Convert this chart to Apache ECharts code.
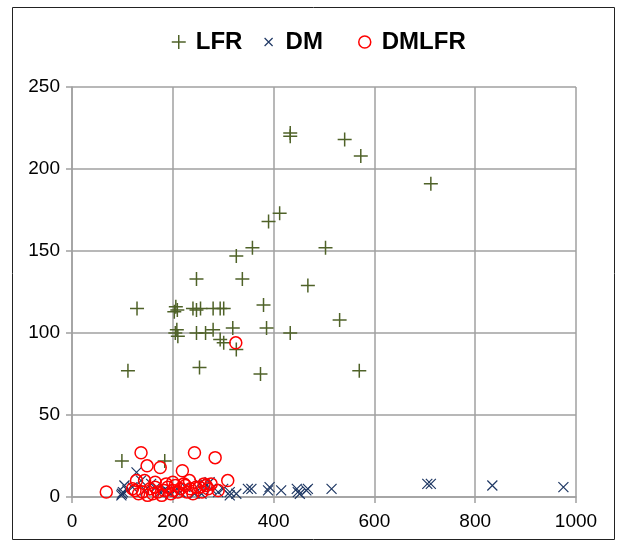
<!DOCTYPE html>
<html>
<head>
<meta charset="utf-8">
<script src="https://cdn.jsdelivr.net/npm/echarts@6/dist/echarts.min.js"></script>
<style>
html,body{margin:0;padding:0;background:#fff;}
#chart{width:621px;height:546px;}
</style>
</head>
<body>
<div id="chart"></div>
<script>
// Series names
var seriesNames = ['LFR', 'DM', 'DMLFR'];

// Axis ticks
var xTicks = [0, 200, 400, 600, 800, 1000];
var yTicks = [0, 50, 100, 150, 200, 250];

// LFR points [x, y]
var lfrData = [
  [99,22],[184,22],[111,77],[129,115],[203,113],[206,116],[209,114],[205,100],
  [208,102],[210,98],[240,115],[247,114],[255,115],[247,133],[247,100],[265,100],
  [280,115],[294,115],[301,115],[280,102],[294,96],[301,94],[319,103],[326,90],
  [253,79],[338,133],[326,147],[358,152],[380,117],[386,103],[374,75],[390,168],
  [412,173],[433,100],[433,222],[433,220],[468,129],[503,152],[531,108],[541,218],
  [570,77],[573,208],[712,191]
];

// DM points [x, y]
var dmData = [
  [98,1],[99,2],[101,3],[104,7],[110,4],[120,6],[128,15],[137,10],[145,4],[157,8],
  [167,6],[175,3],[185,5],[195,2],[205,4],[215,3],[225,6],[243,2],[253,8],[257,2],
  [263,8],[273,9],[276,5],[290,3],[300,5],[313,3],[313,1],[326,2],[349,5],[356,5],
  [389,4],[392,6],[415,4],[446,5],[448,3],[452,2],[465,4],[468,5],[515,5],[705,8],
  [712,8],[834,7],[975,6]
];

// DMLFR points [x, y]
var dmlfrData = [
  [68,3],[325,94],[137,27],[149,19],[175,18],[219,16],[243,27],[284,24],[309,10],
  [276,8],[266,7],[253,6],[233,10],[187,8],[128,10],[144,10],[125,4],[132,2],[140,3],
  [150,1],[155,5],[160,2],[165,6],[170,3],[178,1],[183,4],[190,6],[196,2],[200,4],
  [205,7],[210,3],[215,5],[222,8],[228,3],[235,5],[240,2],[246,6],[258,3],[262,8],
  [270,5],[290,4],[120,5],[165,9],[200,9],[225,7]
];

var GREEN = '#4f6228', NAVY = '#1f3864', RED = '#ff0000';
var FONT = '"Liberation Sans",Arial,sans-serif';

var chart = echarts.init(document.getElementById('chart'), null, {renderer: 'canvas'});

var axisGray = '#a0a0a0';

var legendIcons = [
  {icon: 'path://M0,0M24,20M5,10L19,10M12,3L12,17', color: GREEN, bw: 1.5, left: 166},
  {icon: 'path://M0,0M24,20M8,6L16,14M16,6L8,14', color: NAVY, bw: 1.2, left: 256},
  {icon: 'path://M0,0M24,20M18,10A6,6,0,1,1,6,10A6,6,0,1,1,18,10Z', color: RED, bw: 1.5, left: 352}
];

var legends = seriesNames.map(function (n, i) {
  var li = legendIcons[i];
  return {
    left: li.left, top: 30, padding: 0,
    itemWidth: 24, itemHeight: 20,
    textStyle: {fontFamily: FONT, fontSize: 24, fontWeight: 'bold', color: '#000'},
    data: [{name: n, icon: li.icon,
      itemStyle: {color: 'transparent', borderColor: li.color, borderWidth: li.bw}}]
  };
});

chart.setOption({
  animation: false,
  backgroundColor: '#fff',
  graphic: [{
    type: 'rect', left: 10, top: 5, silent: true,
    shape: {width: 602, height: 532},
    style: {fill: 'none', stroke: '#222', lineWidth: 1}
  }],
  legend: legends,
  grid: {left: 72, right: 45, top: 87, bottom: 49, containLabel: false},
  xAxis: {
    type: 'value', min: xTicks[0], max: xTicks[xTicks.length - 1], interval: xTicks[1] - xTicks[0],
    axisLine: {show: true, onZero: false, lineStyle: {color: axisGray, width: 1.5}},
    axisTick: {show: true, inside: false, length: 6, lineStyle: {color: axisGray, width: 1.5}},
    splitLine: {show: true, lineStyle: {color: axisGray, width: 1.5}},
    axisLabel: {margin: 15, fontFamily: FONT, fontSize: 19, color: '#000',
      formatter: function (v) { return String(v); }}
  },
  yAxis: {
    type: 'value', min: yTicks[0], max: yTicks[yTicks.length - 1], interval: yTicks[1] - yTicks[0],
    axisLine: {show: true, onZero: false, lineStyle: {color: axisGray, width: 1.5}},
    axisTick: {show: true, inside: false, length: 6, lineStyle: {color: axisGray, width: 1.5}},
    splitLine: {show: true, lineStyle: {color: axisGray, width: 1.5}},
    axisLabel: {margin: 12, fontFamily: FONT, fontSize: 19, color: '#000',
      formatter: function (v) { return String(v); }}
  },
  series: [
    {
      name: seriesNames[0], type: 'scatter', data: lfrData,
      symbol: 'path://M0,7L14,7M7,0L7,14', symbolSize: 14,
      itemStyle: {color: 'transparent', borderColor: GREEN, borderWidth: 1.5, opacity: 1},
      emphasis: {disabled: true}, z: 3
    },
    {
      name: seriesNames[1], type: 'scatter', data: dmData,
      symbol: 'path://M0,0L8,8M8,0L0,8', symbolSize: 10,
      itemStyle: {color: 'transparent', borderColor: NAVY, borderWidth: 1.2, opacity: 1},
      emphasis: {disabled: true}, z: 4
    },
    {
      name: seriesNames[2], type: 'scatter', data: dmlfrData,
      symbol: 'circle', symbolSize: 12,
      itemStyle: {color: 'transparent', borderColor: RED, borderWidth: 1.5, opacity: 1},
      emphasis: {disabled: true}, z: 5
    }
  ]
});
</script>
</body>
</html>
